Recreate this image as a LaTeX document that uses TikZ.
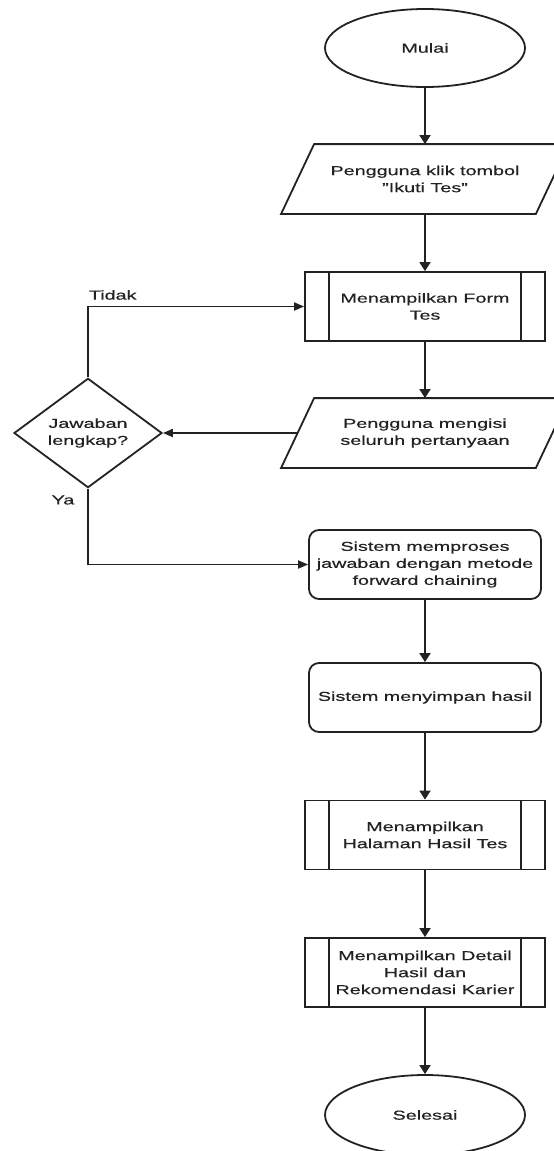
\documentclass[tikz,border=0pt]{standalone}
\usepackage{fontspec}
\setmainfont{Liberation Sans}[FakeStretch=1.52,FakeBold=0.5]
\usetikzlibrary{shapes.geometric,arrows.meta}
\definecolor{ink}{HTML}{222222}
\begin{document}
\begin{tikzpicture}[x=1pt,y=-1pt,
  line width=1.8pt, draw=ink, text=ink,
  every node/.style={font=\fontsize{13}{17}\selectfont, align=center, inner sep=0pt},
  terminal/.style={draw, ellipse, minimum width=200pt, minimum height=78pt},
  io/.style={rectangle, minimum width=253pt, minimum height=68pt},
  proc/.style={draw, rectangle, rounded corners=10pt, minimum width=232pt, minimum height=69pt},
  subproc/.style={draw, rectangle, minimum width=240pt, minimum height=69pt},
  decision/.style={draw, diamond, minimum width=148pt, minimum height=96pt},
  flow/.style={-{Triangle[length=9pt,width=11pt]}},
  hflow/.style={-{Triangle[length=10pt,width=8pt]}},
  label/.style={font=\fontsize{13}{17}\selectfont},
]
\useasboundingbox (0,0) rectangle (554,1151);

% main column
\node[terminal] (start) at (425,48) {Mulai};
\node[io] (klik) at (425,179) {Pengguna klik tombol\\"Ikuti Tes"};
\node[subproc] (form) at (425,306.5) {Menampilkan Form\\Tes};
\node[io] (isi) at (425,433) {Pengguna mengisi\\seluruh pertanyaan};
\node[decision] (cek) at (88,433) {Jawaban\\lengkap?};
\node[proc] (proses) at (425,564.5) {Sistem memproses\\jawaban dengan metode\\forward chaining};
\node[proc] (simpan) at (425,697.5) {Sistem menyimpan hasil};
\node[subproc] (halaman) at (425,835) {Menampilkan\\Halaman Hasil Tes};
\node[subproc] (detail) at (425,972.5) {Menampilkan Detail\\Hasil dan\\Rekomendasi Karier};
\node[terminal, minimum height=80pt] (end) at (425,1115) {Selesai};

% slanted outlines of the input/output boxes
\foreach \p in {klik,isi}{
  \draw ([xshift=16.5pt]\p.north west) -- ([xshift=16.5pt]\p.north east)
     -- ([xshift=-16.5pt]\p.south east) -- ([xshift=-16.5pt]\p.south west) -- cycle;
}

% side bars of the predefined-process boxes
\foreach \b in {form,halaman,detail}{
  \draw ([xshift=25pt]\b.north west) -- ([xshift=25pt]\b.south west);
  \draw ([xshift=-25pt]\b.north east) -- ([xshift=-25pt]\b.south east);
}

% branch labels
\node[label, anchor=west] (tidak) at (88,295) {Tidak};
\node[label] (ya) at (63,500) {Ya};

% connectors
\draw[flow] (start) -- (klik);
\draw[flow] (klik) -- (form);
\draw[flow] (form) -- (isi);
\draw[hflow] (isi) -- (cek);
\draw[hflow] (cek.north) |- (form.west);
\draw[hflow] (cek.south) |- (proses.west);
\draw[flow] (proses) -- (simpan);
\draw[flow] (simpan) -- (halaman);
\draw[flow] (halaman) -- (detail);
\draw[flow] (detail) -- (end);
\end{tikzpicture}
\end{document}
